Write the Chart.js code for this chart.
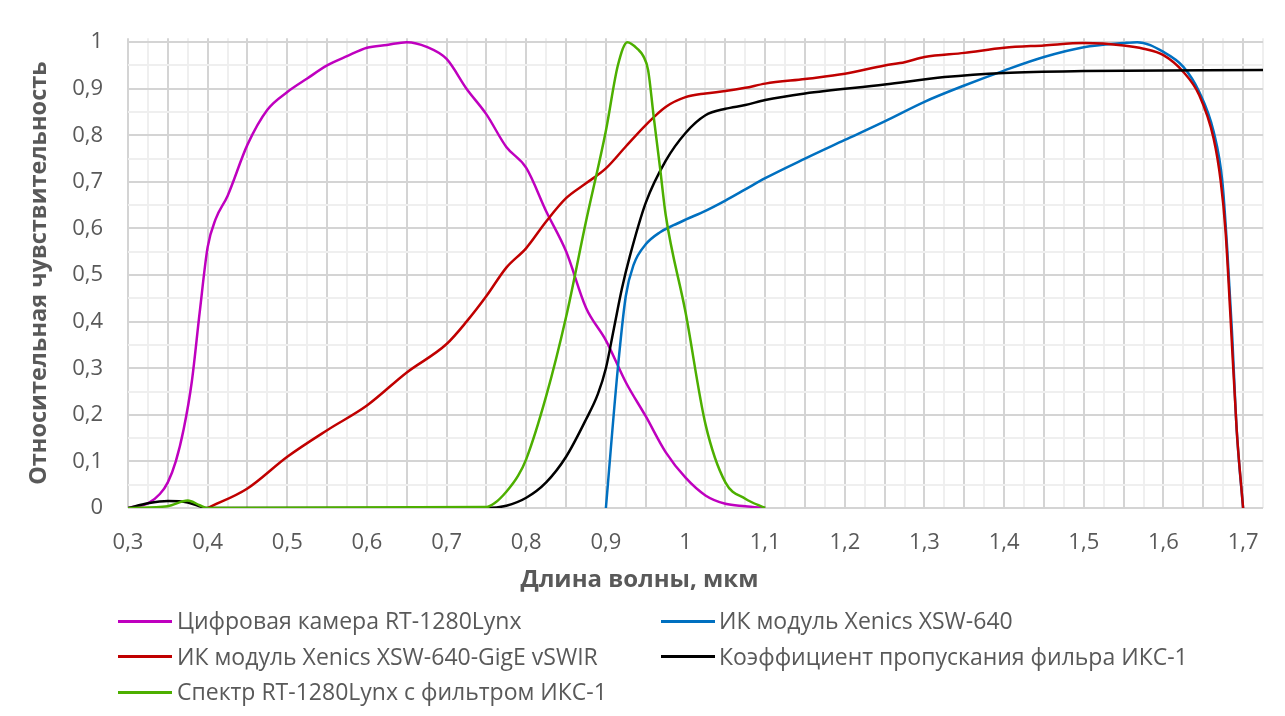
<!DOCTYPE html>
<html><head><meta charset="utf-8">
<script src="https://cdn.jsdelivr.net/npm/chart.js@4.4.1/dist/chart.umd.min.js"></script>
<style>
html,body{margin:0;padding:0;background:#fff;}
#wrap{position:relative;width:1285px;height:716px;overflow:hidden;background:#fff;}
#c{position:absolute;left:0;top:0;}
.ln{position:absolute;height:3px;width:54px;}
.tx{position:absolute;font-family:'Open Sans';font-size:23px;color:#595959;white-space:nowrap;height:32px;line-height:32px;}
</style></head>
<body><div id="wrap"><canvas id="c" width="1285" height="716"></canvas></div>
<script>
// ---- data ----
const seriesNames = [
  'Цифровая камера RT-1280Lynx',
  'ИК модуль Xenics XSW-640',
  'ИК модуль Xenics XSW-640-GigE vSWIR',
  'Коэффициент пропускания фильра ИКС-1',
  'Спектр RT-1280Lynx с фильтром ИКС-1'
];
const seriesColors = ['#BF00BF', '#0070C0', '#C00000', '#000000', '#4DAF00'];

const camX = [0.3,0.325,0.34,0.35,0.36,0.37,0.38,0.39,0.4,0.41,0.425,0.45,0.475,0.5,0.525,0.55,0.575,0.6,0.625,0.65,0.675,0.7,0.725,0.75,0.775,0.8,0.825,0.85,0.875,0.9,0.925,0.95,0.975,1.0,1.025,1.05,1.075,1.1];
const camY = [0,0.01,0.03,0.055,0.1,0.17,0.27,0.42,0.56,0.62,0.67,0.78,0.855,0.893,0.922,0.95,0.97,0.988,0.994,1.0,0.99,0.964,0.9,0.845,0.775,0.73,0.637,0.551,0.43,0.36,0.27,0.197,0.12,0.065,0.027,0.009,0.004,0];

const xswX = [0.9,0.915,0.925,0.935,0.95,0.968,0.985,1.0,1.025,1.05,1.075,1.1,1.15,1.2,1.25,1.3,1.35,1.4,1.45,1.5,1.55,1.567,1.6,1.625,1.645,1.663,1.674,1.68,1.686,1.692,1.7];
const xswY = [0,0.3,0.455,0.523,0.566,0.592,0.607,0.619,0.638,0.66,0.684,0.708,0.75,0.79,0.83,0.872,0.907,0.939,0.968,0.989,0.998,1.0,0.979,0.947,0.893,0.808,0.70,0.558,0.38,0.167,0];

const gigeX = [0.4,0.45,0.5,0.55,0.6,0.65,0.7,0.725,0.75,0.775,0.8,0.825,0.85,0.875,0.9,0.925,0.95,0.975,1.0,1.025,1.05,1.075,1.1,1.15,1.2,1.25,1.275,1.3,1.35,1.4,1.45,1.5,1.55,1.575,1.6,1.625,1.645,1.663,1.672,1.678,1.684,1.692,1.7];
const gigeY = [0,0.042,0.11,0.167,0.22,0.291,0.352,0.40,0.455,0.516,0.558,0.615,0.665,0.697,0.729,0.776,0.822,0.861,0.882,0.89,0.895,0.902,0.911,0.921,0.932,0.95,0.957,0.968,0.977,0.988,0.993,0.998,0.993,0.986,0.972,0.936,0.886,0.793,0.70,0.594,0.416,0.167,0];

const filtX = [0.3,0.325,0.35,0.375,0.4,0.75,0.775,0.8,0.825,0.85,0.875,0.89,0.9,0.91,0.92,0.93,0.95,0.975,1.0,1.025,1.05,1.075,1.1,1.15,1.25,1.325,1.4,1.5,1.725];
const filtY = [0,0.01,0.015,0.012,0,0,0.005,0.022,0.055,0.11,0.19,0.245,0.3,0.385,0.47,0.54,0.655,0.745,0.805,0.843,0.857,0.865,0.876,0.89,0.909,0.925,0.934,0.938,0.94];

const specX = [0.3,0.35,0.375,0.39,0.4,0.75,0.76,0.775,0.79,0.8,0.825,0.85,0.875,0.9,0.915,0.927,0.94,0.947,0.953,0.96,0.968,0.975,1.0,1.025,1.05,1.075,1.1];
const specY = [0,0.004,0.016,0.006,0,0.002,0.01,0.035,0.07,0.105,0.24,0.41,0.615,0.81,0.95,1.0,0.985,0.97,0.94,0.84,0.73,0.63,0.42,0.18,0.055,0.02,0];

const xTickLabels = ['0,3','0,4','0,5','0,6','0,7','0,8','0,9','1','1,1','1,2','1,3','1,4','1,5','1,6','1,7'];
const yTickLabels = ['0','0,1','0,2','0,3','0,4','0,5','0,6','0,7','0,8','0,9','1'];
const xTitle = 'Длина волны, мкм';
const yTitle = 'Относительная чувствительность';

// ---- chart ----
const FONT = 'Open Sans';
const TXT = '#595959';
const MAJOR = '#D4D4D4', MINOR = '#EFEFEF';
const pairs = (xs, ys) => xs.map((x, i) => ({x: x, y: ys[i]}));
const seriesData = [pairs(camX, camY), pairs(xswX, xswY), pairs(gigeX, gigeY), pairs(filtX, filtY), pairs(specX, specY)];

const near = (a, b) => Math.abs(a - b) < 1e-6;
const isMult = (v, s) => near(v / s, Math.round(v / s));

const datasets = seriesData.map((d, i) => ({
  label: seriesNames[i],
  data: d,
  borderColor: seriesColors[i],
  backgroundColor: seriesColors[i],
  borderWidth: 2.5,
  pointRadius: 0,
  fill: false,
  cubicInterpolationMode: 'monotone',
  order: seriesNames.length - i
}));

new Chart(document.getElementById('c'), {
  type: 'line',
  data: {datasets: datasets},
  options: {
    responsive: false,
    animation: false,
    events: [],
    layout: {padding: {left: 16, right: 22, top: 36, bottom: 124}},
    plugins: {
      legend: {display: false},
      tooltip: {enabled: false},
      title: {
        display: true, text: xTitle, position: 'bottom', align: 'center', fullSize: true,
        color: TXT, font: {family: FONT, size: 24, weight: 'bold', lineHeight: 1},
        padding: {top: 0, bottom: 0}
      }
    },
    scales: {
      x: {
        type: 'linear', min: 0.3, max: 1.725,
        afterBuildTicks: (s) => {
          const t = [];
          for (let i = 0; i <= 57; i++) t.push({value: +(0.3 + i * 0.025).toFixed(3)});
          s.ticks = t;
        },
        afterFit: (s) => { s.height = 60; },
        border: {display: false},
        grid: {
          drawTicks: false, lineWidth: 2,
          color: (ctx) => isMult(ctx.tick.value, 0.05) ? MAJOR : MINOR
        },
        ticks: {
          autoSkip: false, maxRotation: 0, padding: 22, color: TXT,
          font: {family: FONT, size: 22},
          callback: (v) => {
            if (!isMult(v, 0.1)) return '';
            const k = Math.round((v - 0.3) * 10);
            return xTickLabels[k] !== undefined ? xTickLabels[k] : '';
          }
        }
      },
      y: {
        type: 'linear', min: 0, max: 1.0085,
        afterBuildTicks: (s) => {
          const t = [];
          for (let i = 0; i <= 20; i++) t.push({value: +(i * 0.05).toFixed(3)});
          s.ticks = t;
        },
        afterFit: (s) => { s.width = 112; },
        border: {display: false},
        grid: {
          drawTicks: false, lineWidth: 2,
          color: (ctx) => isMult(ctx.tick.value, 0.1) ? MAJOR : MINOR
        },
        title: {
          display: true, text: yTitle, color: TXT,
          font: {family: FONT, size: 23.5, weight: 'bold', lineHeight: 1},
          padding: {top: 12, bottom: 0}
        },
        ticks: {
          autoSkip: false, padding: 25, color: TXT,
          font: {family: FONT, size: 22},
          callback: (v) => {
            if (!isMult(v, 0.1)) return '';
            const k = Math.round(v * 10);
            return yTickLabels[k] !== undefined ? yTickLabels[k] : '';
          }
        }
      }
    }
  }
});

// ---- legend (two columns, row-wise like the original) ----
const wrap = document.getElementById('wrap');
const colLine = [118, 661], colText = [177, 719], rowY = [621, 656.5, 692];
seriesNames.forEach((name, i) => {
  const col = i % 2, row = Math.floor(i / 2);
  const ln = document.createElement('div');
  ln.className = 'ln';
  ln.style.left = colLine[col] + 'px';
  ln.style.top = (rowY[row] - 1.5) + 'px';
  ln.style.background = seriesColors[i];
  wrap.appendChild(ln);
  const tx = document.createElement('div');
  tx.className = 'tx';
  tx.style.left = colText[col] + 'px';
  tx.style.top = (rowY[row] - 17) + 'px';
  tx.textContent = name;
  wrap.appendChild(tx);
});
</script>
</body></html>
